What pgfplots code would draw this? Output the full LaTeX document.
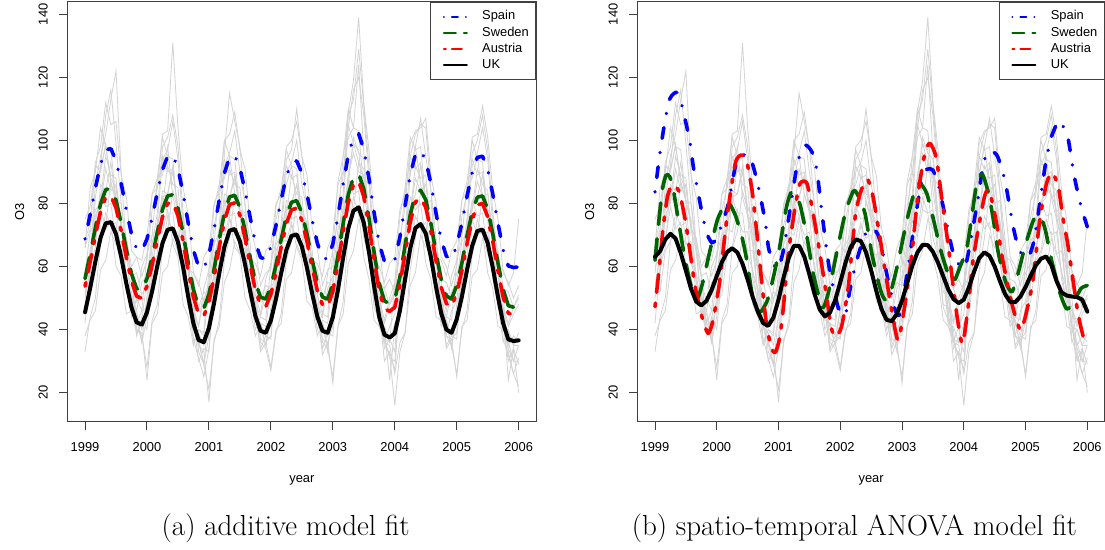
\documentclass[border=0pt]{standalone}
\usepackage{fontspec}
\usepackage{pgfplots}
\usepackage{pgfplotstable}
\pgfplotsset{compat=1.18}
\newfontfamily\lab{Liberation Sans}
\newcommand\labfont{\lab\fontsize{12.9}{15}\selectfont}
\definecolor{dgreen}{HTML}{006400}
\definecolor{lgray}{HTML}{D3D3D3}
\definecolor{axgray}{HTML}{404040}

\pgfplotstableread{
t uka spa swa ata ukb g1 g2 g3 g4 g5 g6 g7 g8 g9 g10 g11 g12 g13 g14
1999.000 45.5 68.8 56.2 53.8 63.1 60 42 75 33 50 68 38 54 58 66 66 52 51 52
1999.083 53.2 76.5 63.9 61.5 64.9 63 60 79 44 60 74 43 63 71 85 72 52 66 58
1999.167 61.6 84.9 72.3 69.9 68.6 78 66 92 50 82 93 46 86 74 90 92 65 68 76
1999.250 69.1 92.4 79.8 77.4 70.4 80 86 91 68 92 98 59 95 83 104 90 68 79 81
1999.333 73.7 97.0 84.4 82.0 68.9 91 84 98 73 108 112 62 102 79 98 99 77 72 95
1999.417 74.1 97.4 84.8 82.4 64.3 84 93 88 87 116 105 71 113 80 97 86 73 74 89
1999.500 70.3 93.6 81.0 78.6 58.7 86 80 85 81 99 106 67 122 68 81 81 74 60 88
1999.583 63.1 86.4 73.8 71.4 53.0 72 75 72 80 80 89 68 90 64 74 61 62 57 72
1999.667 54.6 77.9 65.3 62.9 48.9 69 55 69 64 67 82 55 66 52 57 56 58 45 65
1999.750 47.0 70.3 57.7 55.3 47.7 57 50 60 57 47 65 52 57 51 55 44 46 46 48
1999.833 42.3 65.6 53.0 50.6 49.1 58 38 63 40 43 63 40 42 46 49 50 45 39 46
1999.917 41.6 64.9 52.3 49.9 52.6 51 44 62 38 36 57 39 46 55 60 46 40 43 36
2000.000 45.5 68.8 56.2 53.8 57.0 55 40 70 28 44 62 24 47 57 64 64 49 56 51
2000.083 52.2 75.5 62.9 60.5 61.4 68 58 83 43 63 78 42 67 70 83 70 51 59 56
2000.167 60.2 83.5 70.9 68.5 64.6 71 64 85 48 74 85 45 77 72 88 88 64 72 74
2000.250 67.4 90.7 78.1 75.7 65.8 84 82 95 66 94 102 58 98 82 101 89 66 71 79
2000.333 71.7 95.0 82.4 80.0 64.5 83 83 90 71 97 103 60 101 77 95 98 76 78 92
2000.417 72.1 95.4 82.8 80.4 60.9 90 92 91 84 106 131 69 108 77 94 82 71 67 86
2000.500 67.8 91.1 78.5 76.1 55.9 79 76 77 78 94 104 65 98 64 76 76 71 63 85
2000.583 59.8 83.1 70.5 68.1 50.3 75 70 72 77 73 85 65 77 59 67 56 58 48 67
2000.667 50.3 73.6 61.0 58.6 45.6 60 50 59 59 59 76 52 63 47 50 49 53 44 58
2000.750 41.9 65.2 52.6 50.2 42.1 56 43 58 50 37 58 47 41 45 47 36 41 35 41
2000.833 36.7 60.0 47.4 45.0 41.2 47 30 54 33 31 55 35 36 41 41 40 39 40 37
2000.917 36.0 59.3 46.7 44.3 43.8 52 34 63 29 25 49 33 29 50 53 39 35 38 29
2001.000 40.5 63.8 51.2 48.8 49.5 50 33 66 21 34 55 17 38 53 59 59 44 52 44
2001.083 48.4 71.7 59.1 56.7 56.6 64 53 80 36 55 73 37 59 67 79 67 47 57 51
2001.167 57.9 81.2 68.6 66.2 62.9 69 61 84 43 69 81 41 73 71 86 86 61 71 70
2001.250 66.3 89.6 77.0 74.6 66.6 83 80 94 62 92 100 55 96 81 100 88 65 70 77
2001.333 71.4 94.7 82.1 79.7 66.6 82 82 89 69 96 102 59 115 76 95 95 75 76 91
2001.417 71.9 95.2 82.6 80.2 63.2 88 89 90 83 103 109 68 106 77 94 83 70 66 86
2001.500 68.0 91.3 78.7 76.3 57.5 78 77 78 78 90 97 64 98 65 78 77 71 64 85
2001.583 60.7 84.0 71.4 69.0 51.3 76 71 74 77 80 91 66 79 61 70 58 59 50 69
2001.667 52.1 75.4 62.8 60.4 46.4 62 52 62 61 58 73 53 67 49 53 52 55 46 61
2001.750 44.3 67.6 55.0 52.6 44.2 58 46 61 53 47 66 49 46 48 51 40 43 38 44
2001.833 39.6 62.9 50.3 47.9 45.4 50 34 57 36 33 54 37 41 44 45 44 42 42 42
2001.917 39.0 62.3 49.7 47.3 49.3 54 38 65 34 36 58 36 35 52 56 43 38 41 35
2002.000 42.9 66.2 53.6 51.2 55.0 53 37 67 27 38 59 28 43 54 61 61 46 53 47
2002.083 49.8 73.1 60.5 58.1 61.1 65 55 80 39 58 75 40 62 67 79 68 48 57 53
2002.167 58.0 81.3 68.7 66.3 66.1 69 62 83 45 70 82 42 74 70 85 84 61 69 70
2002.250 65.3 88.6 76.0 73.6 68.6 81 78 92 62 90 98 56 94 79 97 86 64 68 76
2002.333 69.7 93.0 80.4 78.0 68.1 80 80 88 68 93 100 58 97 75 92 92 73 74 89
2002.417 70.2 93.5 80.9 78.5 64.5 86 86 89 81 100 106 67 110 76 91 80 69 66 83
2002.500 66.4 89.7 77.1 74.7 58.8 78 74 77 75 86 95 63 95 64 76 75 70 62 82
2002.583 59.6 82.9 70.3 67.9 52.3 74 69 73 74 78 89 64 77 60 69 58 58 49 67
2002.667 51.4 74.7 62.1 59.7 46.5 61 52 62 59 56 72 52 65 49 53 51 54 47 60
2002.750 44.1 67.4 54.8 52.4 43.1 59 45 61 52 46 66 48 46 48 51 40 43 38 44
2002.833 39.6 62.9 50.3 47.9 42.7 50 34 57 36 32 54 37 41 44 45 45 42 43 42
2002.917 39.0 62.3 49.7 47.3 45.0 55 39 66 34 36 59 36 35 53 58 44 38 42 33
2003.000 43.9 67.2 54.6 52.2 49.2 54 38 70 25 41 60 23 44 57 65 65 47 56 49
2003.083 52.6 75.9 63.3 60.9 54.7 68 59 86 41 64 79 41 68 72 87 75 51 62 57
2003.167 62.9 86.2 73.6 71.2 60.3 74 69 90 49 79 89 45 83 77 95 95 66 77 78
2003.250 72.1 95.4 82.8 80.4 64.5 89 89 101 70 104 109 61 108 88 110 105 71 84 86
2003.333 77.7 101.0 88.4 86.0 66.9 96 99 104 78 116 119 65 113 83 104 99 82 78 101
2003.417 78.8 102.1 89.5 87.1 66.8 90 93 124 93 120 139 75 129 84 103 97 77 77 96
2003.500 73.9 97.2 84.6 82.2 64.7 89 91 96 88 108 112 72 111 69 84 78 78 63 94
2003.583 64.7 88.0 75.4 73.0 61.2 75 72 76 86 88 97 71 92 63 73 66 63 56 75
2003.667 53.7 77.0 64.4 62.0 56.9 68 60 62 67 61 75 57 65 48 52 47 57 43 63
2003.750 43.9 67.2 54.6 52.2 52.7 55 41 60 55 46 66 51 50 47 50 43 42 41 44
2003.833 38.4 61.7 49.1 46.7 49.7 53 37 55 36 30 53 36 34 42 43 37 41 36 40
2003.917 37.5 60.8 48.2 45.8 48.4 48 31 61 32 33 56 35 37 48 50 36 36 41 24
2004.000 38.8 62.1 49.5 47.1 49.5 53 30 63 16 27 52 26 33 51 55 55 42 45 41
2004.083 46.0 69.3 56.7 54.3 53.4 57 49 78 33 50 69 36 55 65 76 65 45 59 47
2004.167 56.0 79.3 66.7 64.3 58.4 71 59 83 39 66 79 39 70 70 85 85 59 65 67
2004.250 65.8 89.1 76.5 74.1 62.7 77 79 95 59 90 99 54 95 82 101 89 64 76 77
2004.333 72.2 95.5 82.9 80.5 64.5 88 83 91 69 98 103 58 102 78 97 98 76 72 92
2004.417 73.5 96.8 84.2 81.8 63.4 84 92 93 84 107 104 70 105 80 98 86 72 74 88
2004.500 70.5 93.8 81.2 78.8 60.0 86 80 80 80 95 107 66 104 68 81 80 74 61 89
2004.583 63.0 86.3 73.7 71.3 55.5 73 74 75 81 84 89 68 84 62 72 61 62 56 72
2004.667 53.5 76.8 64.2 61.8 51.3 68 55 63 64 61 80 55 69 50 54 53 56 44 63
2004.750 45.2 68.5 55.9 53.5 48.8 56 47 62 55 48 63 51 48 49 52 41 44 43 46
2004.833 40.0 63.3 50.7 48.3 48.7 55 35 57 38 34 60 38 42 44 46 44 43 38 43
2004.917 39.0 62.3 49.7 47.3 50.5 50 38 65 35 37 54 37 35 52 57 43 38 46 34
2005.000 43.3 66.6 54.0 51.6 53.5 58 37 68 26 39 60 25 43 55 62 62 46 49 48
2005.083 50.4 73.7 61.1 58.7 57.1 61 56 81 40 59 76 41 63 68 81 69 49 63 54
2005.167 59.0 82.3 69.7 67.3 60.4 75 63 84 46 72 83 43 75 71 87 86 62 66 72
2005.250 66.6 89.9 77.3 74.9 62.5 78 80 94 64 92 101 57 96 81 100 88 65 75 78
2005.333 71.3 94.6 82.0 79.6 63.2 87 82 89 70 96 102 59 100 76 94 95 75 70 91
2005.417 71.7 95.0 82.4 80.0 60.5 82 89 90 83 104 111 69 108 77 93 82 70 71 86
2005.500 67.5 90.8 78.2 75.8 55.5 83 76 77 78 94 101 64 97 64 76 75 71 58 84
2005.583 59.6 82.9 70.3 67.9 51.8 70 69 72 76 73 84 65 77 59 67 56 58 53 67
2005.667 50.3 73.6 61.0 58.6 50.8 65 50 60 59 59 75 52 63 47 50 48 53 41 58
2005.750 42.0 65.3 52.7 50.3 50.5 53 42 59 50 37 58 47 41 46 47 36 41 40 41
2005.833 36.9 60.2 47.6 45.2 50.3 52 30 54 33 32 55 24 36 41 42 40 40 35 34
2005.917 36.4 59.7 47.1 44.7 49.5 47 34 58 26 26 50 34 30 45 47 35 35 38 30
2006.000 36.6 59.9 47.3 44.9 45.7 50 29 75 22 31 54 20 35 48 51 35 39 36 30
}\maindata

\pgfplotstableread{
t v
1999.00 83.7
1999.08 96.0
1999.16 106.0
1999.23 112.8
1999.30 114.8
1999.36 115.2
1999.42 112.3
1999.49 106.5
1999.57 99.1
1999.62 91.7
1999.69 84.3
1999.76 77.1
1999.84 70.5
1999.92 67.6
2000.00 68.8
2000.05 71.6
2000.12 75.5
2000.19 80.1
2000.30 91.7
2000.37 94.8
2000.46 95.5
2000.54 94.8
2000.65 87.4
2000.78 74.8
2000.84 65.8
2000.94 60.0
2001.00 59.4
2001.08 65.2
2001.16 74.8
2001.26 87.4
2001.32 93.8
2001.43 98.5
2001.54 96.4
2001.62 90.6
2001.71 75.8
2001.81 61.0
2001.87 54.7
2001.97 46.8
2002.08 44.5
2002.15 52.0
2002.24 60.0
2002.32 65.5
2002.41 70.5
2002.51 72.3
2002.60 70.5
2002.67 66.3
2002.75 57.9
2002.89 46.2
2002.97 45.2
2003.10 60.0
2003.21 74.8
2003.32 87.4
2003.40 90.8
2003.50 90.6
2003.60 85.0
2003.70 75.8
2003.83 64.2
2003.97 59.5
2004.05 62.0
2004.17 74.8
2004.23 81.6
2004.30 90.6
2004.37 96.1
2004.46 96.5
2004.55 94.8
2004.67 86.9
2004.80 72.6
2004.88 66.3
2004.96 63.3
2005.05 63.1
2005.15 69.5
2005.32 92.2
2005.42 101.2
2005.54 106.3
2005.62 104.0
2005.69 100.5
2005.79 88.5
2005.90 79.0
2006.00 72.6
}\spainb

\pgfplotstableread{
t v
1999.00 62.0
1999.06 74.0
1999.12 84.5
1999.18 89.0
1999.24 88.5
1999.30 84.0
1999.36 76.9
1999.45 66.3
1999.56 55.7
1999.67 49.4
1999.77 54.7
1999.88 64.2
2000.01 74.8
2000.15 80.3
2000.22 79.5
2000.31 75.8
2000.42 68.4
2000.50 60.5
2000.57 51.5
2000.65 46.5
2000.72 45.8
2000.84 50.4
2001.00 64.2
2001.13 79.0
2001.21 83.7
2001.28 82.5
2001.35 79.5
2001.46 69.5
2001.56 57.9
2001.70 47.3
2001.76 48.5
2001.83 53.6
2001.94 64.2
2002.08 76.9
2002.21 83.9
2002.27 83.2
2002.40 76.9
2002.51 64.2
2002.65 52.6
2002.73 49.4
2002.81 51.5
2002.92 60.0
2003.08 74.8
2003.21 84.3
2003.29 86.4
2003.40 83.2
2003.51 74.8
2003.64 64.2
2003.78 56.0
2003.86 56.0
2003.94 60.0
2004.04 65.0
2004.12 74.5
2004.21 86.5
2004.30 89.3
2004.40 83.2
2004.48 74.8
2004.56 64.2
2004.68 55.0
2004.78 52.0
2004.88 57.9
2004.99 66.3
2005.13 74.8
2005.23 76.2
2005.32 71.6
2005.42 62.1
2005.56 51.5
2005.67 46.5
2005.79 49.4
2005.90 53.1
2006.00 54.0
}\swedenb

\pgfplotstableread{
t v
1999.00 47.3
1999.06 58.0
1999.13 72.0
1999.20 82.0
1999.27 85.8
1999.33 85.5
1999.40 83.2
1999.49 74.8
1999.57 64.2
1999.65 53.6
1999.76 44.1
1999.86 38.8
1999.94 43.0
2000.05 55.7
2000.16 74.8
2000.30 92.7
2000.40 95.4
2000.48 93.8
2000.57 84.3
2000.65 70.5
2000.73 54.7
2000.81 41.0
2000.89 34.0
2000.95 32.8
2001.02 37.5
2001.08 47.3
2001.16 64.2
2001.27 79.0
2001.35 86.4
2001.46 86.4
2001.56 76.9
2001.67 64.2
2001.78 50.4
2001.85 40.9
2001.92 37.7
2002.02 40.9
2002.13 53.6
2002.24 75.5
2002.32 83.0
2002.40 87.0
2002.45 87.4
2002.53 82.2
2002.64 69.5
2002.75 55.7
2002.86 43.0
2002.94 36.7
2003.05 48.3
2003.16 64.2
2003.26 83.2
2003.37 95.9
2003.45 99.1
2003.55 94.8
2003.64 82.2
2003.75 66.3
2003.82 55.0
2003.90 43.0
2003.98 35.5
2004.07 47.3
2004.15 62.0
2004.26 74.8
2004.34 82.5
2004.41 84.2
2004.52 74.8
2004.63 62.1
2004.74 51.5
2004.82 45.2
2004.92 39.8
2005.01 45.2
2005.12 55.7
2005.23 74.8
2005.34 86.4
2005.43 89.8
2005.53 85.3
2005.61 74.8
2005.69 66.3
2005.84 46.2
2005.94 37.5
2006.00 38.8
}\austriab

\pgfplotsset{
  legend image code/.code={\path (0pt,0pt) (30.3pt,0pt); \draw[#1] (5.3pt,0pt) -- (28.3pt,0pt);},
  spn/.style={blue, line width=3.6pt, line cap=round, line join=round, dash pattern=on 0.01pt off 14.39pt on 10.8pt off 14.4pt},
  swe/.style={dgreen, line width=3.6pt, line cap=round, line join=round, dash pattern=on 21.6pt off 14.4pt},
  aut/.style={red, line width=3.6pt, line cap=round, line join=round, dash pattern=on 3.6pt off 10.8pt on 18pt off 10.8pt},
  ukl/.style={black, line width=4pt, line cap=round, line join=round},
  glin/.style={lgray, line width=0.8pt, forget plot},
  panel/.style={
    scale only axis, width=468.3pt, height=420pt,
    xmin=1998.72, xmax=2006.28, ymin=10.8, ymax=144.0,
    xtick={1999,2000,2001,2002,2003,2004,2005,2006},
    xticklabels={1999,2000,2001,2002,2003,2004,2005,2006},
    ytick={20,40,60,80,100,120,140},
    yticklabels={20,40,60,80,100,120,140},
    tick pos=left, tick align=outside, major tick length=8.3pt,
    axis line style={axgray, line width=1pt},
    major tick style={axgray, line width=1pt},
    tick label style={font=\labfont},
    xticklabel style={anchor=north, inner sep=0pt},
    yticklabel style={rotate=90, anchor=south, inner sep=0pt},
    xticklabel shift=12.1pt,
    yticklabel shift=11.5pt,
    xlabel={year}, ylabel={O3},
    every axis x label/.style={at={(axis description cs:0.5,-0.1388)}, anchor=center, font=\labfont},
    every axis y label/.style={at={(axis description cs:-0.1027,0.5)}, rotate=90, anchor=center, font=\labfont},
    legend cell align=left,
    legend style={at={(1,1)}, anchor=north east, draw=axgray, line width=1pt, fill=white,
      inner xsep=6.7pt, inner ysep=6.5pt, font=\labfont, row sep=0pt,
      nodes={inner xsep=0pt, inner ysep=2.1pt, text height=9.2pt, text depth=2.7pt},
      /tikz/every odd column/.append style={column sep=12.4pt}},
  },
}

\newcommand\legendimages{%
  \addlegendimage{blue, line width=2pt, line cap=round, dash pattern=on 0.01pt off 7.99pt on 6pt off 8pt}
  \addlegendentry{Spain}
  \addlegendimage{dgreen, line width=2pt, line cap=round, dash pattern=on 12pt off 8pt}
  \addlegendentry{Sweden}
  \addlegendimage{red, line width=2pt, line cap=round, dash pattern=on 2pt off 6pt on 10pt off 6pt}
  \addlegendentry{Austria}
  \addlegendimage{black, line width=2pt, line cap=round}
  \addlegendentry{UK}
}

\newcommand\graylines{%
  \addplot[glin] table[x=t,y=g1]{\maindata};
  \addplot[glin] table[x=t,y=g2]{\maindata};
  \addplot[glin] table[x=t,y=g3]{\maindata};
  \addplot[glin] table[x=t,y=g4]{\maindata};
  \addplot[glin] table[x=t,y=g5]{\maindata};
  \addplot[glin] table[x=t,y=g6]{\maindata};
  \addplot[glin] table[x=t,y=g7]{\maindata};
  \addplot[glin] table[x=t,y=g8]{\maindata};
  \addplot[glin] table[x=t,y=g9]{\maindata};
  \addplot[glin] table[x=t,y=g10]{\maindata};
  \addplot[glin] table[x=t,y=g11]{\maindata};
  \addplot[glin] table[x=t,y=g12]{\maindata};
  \addplot[glin] table[x=t,y=g13]{\maindata};
  \addplot[glin] table[x=t,y=g14]{\maindata};
}

\begin{document}
\begin{tikzpicture}
\useasboundingbox (0,0) rectangle (1105pt,549pt);

\begin{axis}[panel, at={(67.7pt,127.3pt)}, anchor=south west]
  \graylines
  \addplot[spn, forget plot] table[x=t,y=spa]{\maindata};
  \addplot[swe, forget plot] table[x=t,y=swa]{\maindata};
  \addplot[aut, forget plot] table[x=t,y=ata]{\maindata};
  \addplot[ukl, forget plot] table[x=t,y=uka]{\maindata};
  \legendimages
\end{axis}

\begin{axis}[panel, at={(637.7pt,127.3pt)}, anchor=south west, width=466.9pt]
  \graylines
  \addplot[spn, forget plot, smooth, tension=0.4] table[x=t,y=v]{\spainb};
  \addplot[swe, forget plot, smooth, tension=0.4] table[x=t,y=v]{\swedenb};
  \addplot[aut, forget plot, smooth, tension=0.4] table[x=t,y=v]{\austriab};
  \addplot[ukl, forget plot] table[x=t,y=ukb]{\maindata};
  \legendimages
\end{axis}

\node[font=\fontsize{29}{34}\selectfont] at (285.7pt,21pt) {(a) additive model fit};
\node[font=\fontsize{29}{34}\selectfont] at (854.4pt,21pt) {(b) spatio-temporal ANOVA model fit};
\end{tikzpicture}
\end{document}
